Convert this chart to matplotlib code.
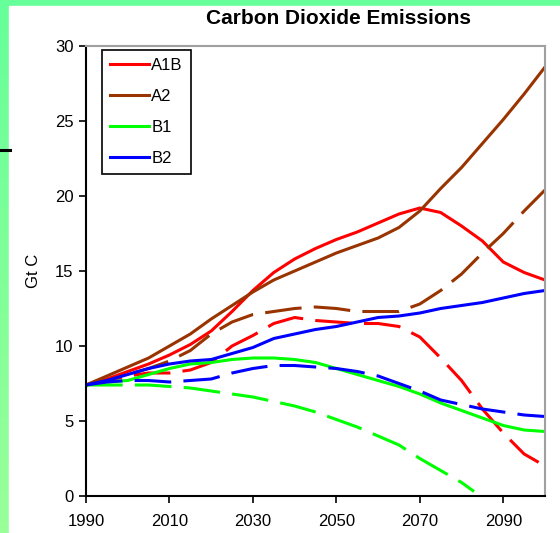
import numpy as np
import matplotlib
matplotlib.use("Agg")
import matplotlib.pyplot as plt
from matplotlib.patches import Rectangle
from matplotlib.lines import Line2D

plt.rcParams['font.family'] = ['Liberation Sans', 'DejaVu Sans']

# emission scenarios, Gt C per year, sampled every 5 years
years = [1990, 1995, 2000, 2005, 2010, 2015, 2020, 2025, 2030, 2035, 2040, 2045,
         2050, 2055, 2060, 2065, 2070, 2075, 2080, 2085, 2090, 2095, 2100]

a1b = [7.4, 7.8, 8.3, 8.8, 9.4, 10.1, 11.0, 12.3, 13.7, 14.9, 15.8, 16.5,
       17.1, 17.6, 18.2, 18.8, 19.2, 18.9, 18.0, 17.0, 15.6, 14.9, 14.4]
a2 = [7.4, 8.0, 8.6, 9.2, 10.0, 10.8, 11.8, 12.7, 13.6, 14.4, 15.0, 15.6,
      16.2, 16.7, 17.2, 17.9, 19.0, 20.5, 21.9, 23.5, 25.1, 26.8, 28.6]
b1 = [7.4, 7.6, 7.7, 8.1, 8.5, 8.8, 8.9, 9.1, 9.2, 9.2, 9.1, 8.9,
      8.5, 8.1, 7.7, 7.3, 6.8, 6.2, 5.7, 5.2, 4.7, 4.4, 4.3]
b2 = [7.4, 7.7, 8.1, 8.5, 8.8, 9.0, 9.1, 9.5, 9.9, 10.5, 10.8, 11.1,
      11.3, 11.6, 11.9, 12.0, 12.2, 12.5, 12.7, 12.9, 13.2, 13.5, 13.7]

# alternative model runs (dashed)
a1b_alt = [7.4, 7.7, 8.0, 8.2, 8.2, 8.4, 8.9, 10.0, 10.7, 11.5, 11.9, 11.7,
           11.6, 11.5, 11.5, 11.3, 10.6, 9.2, 7.7, 5.8, 4.2, 2.8, 2.0]
a2_alt = [7.4, 7.7, 8.1, 8.5, 9.0, 9.7, 10.8, 11.6, 12.1, 12.3, 12.5, 12.6,
          12.5, 12.3, 12.3, 12.3, 12.8, 13.7, 14.8, 16.2, 17.5, 19.0, 20.4]
b1_alt_years = years[:19] + [2083]
b1_alt = [7.4, 7.4, 7.4, 7.4, 7.3, 7.2, 7.0, 6.8, 6.6, 6.3, 6.0, 5.6,
          5.1, 4.6, 4.0, 3.4, 2.5, 1.7, 0.9, 0.3]
b2_alt = [7.4, 7.6, 7.7, 7.7, 7.6, 7.7, 7.8, 8.2, 8.5, 8.7, 8.7, 8.6,
          8.5, 8.3, 8.0, 7.5, 7.0, 6.4, 6.1, 5.8, 5.6, 5.4, 5.3]

labels = ['A1B', 'A2', 'B1', 'B2']
colors = ['#ff0000', '#993300', '#00ff00', '#0000ff']

W, H = 560, 533
fig = plt.figure(figsize=(W / 100, H / 100), dpi=100)

# green backdrop fading lighter towards the bottom, white panel on top
bg = fig.add_axes([0, 0, 1, 1], zorder=-10)
grad = np.linspace(0, 1, 256).reshape(-1, 1)
top = np.array([0x66, 0xff, 0x99]) / 255
bot = np.array([0x99, 0xff, 0x99]) / 255
img = top + (bot - top) * grad[..., None]
bg.imshow(img, aspect='auto', extent=[0, 1, 0, 1], origin='upper')
bg.add_patch(Rectangle((9 / W, 0), 1, 1 - 6 / H, color='white'))
bg.add_line(Line2D([0, 10 / W], [1 - 150 / H] * 2, color='black', lw=2.2))
bg.set_xlim(0, 1)
bg.set_ylim(0, 1)
bg.axis('off')

ax = fig.add_axes([86 / W, 1 - 496 / H, (545 - 86) / W, (496 - 46) / H])
ax.set_facecolor('white')

dash = (0, (12, 4))
solid_series = [a1b, a2, b1, b2]
alt_series = [(years, a1b_alt), (years, a2_alt), (b1_alt_years, b1_alt), (years, b2_alt)]
for lab, col, sol, (yx, alt) in zip(labels, colors, solid_series, alt_series):
    ax.plot(years, sol, color=col, lw=2.2, label=lab)
    ax.plot(yx, alt, color=col, lw=2.2, linestyle=dash)

ax.set_xlim(1990, 2100)
ax.set_ylim(0, 30)
ax.set_xticks(range(1990, 2100, 20))
ax.set_yticks(range(0, 31, 5))
ax.tick_params(direction='out', length=5, width=1.2, labelsize=12, pad=4)
ax.tick_params(axis='x', pad=8)
for side in ('left', 'bottom'):
    ax.spines[side].set_color('black')
    ax.spines[side].set_linewidth(1.5)
for side in ('top', 'right'):
    ax.spines[side].set_color('#a0a0a0')
    ax.spines[side].set_linewidth(1.5)

ax.set_ylabel('Gt C', fontsize=12, labelpad=10)

leg = ax.legend(loc='upper left', bbox_to_anchor=((102 - 86) / 459, (496 - 50) / 450),
                fontsize=12, handlelength=2.3, handletextpad=0.15, labelspacing=0.95,
                borderpad=0.5, fancybox=False, framealpha=1, edgecolor='black',
                borderaxespad=0)
leg.get_frame().set_linewidth(1.2)

fig.text(338 / W, 1 - 18 / H, 'Carbon Dioxide Emissions', fontsize=15,
         fontweight='bold', ha='center', va='center')

fig.savefig('out.png', dpi=100)
